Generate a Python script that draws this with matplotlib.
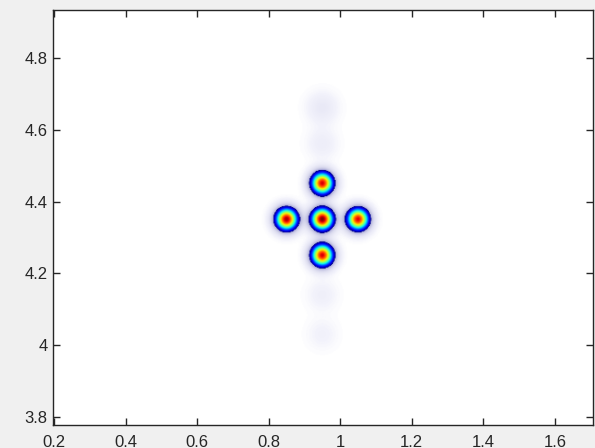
import matplotlib
matplotlib.use("Agg")
import matplotlib.pyplot as plt
import numpy as np
from matplotlib.colors import LinearSegmentedColormap

# peak positions and heights
peak_x = [0.95, 0.85, 0.95, 1.05, 0.95]
peak_y = [4.45, 4.35, 4.35, 4.35, 4.25]
peak_amp = [0.94, 0.97, 1.0, 0.93, 0.94]
peak_width = 0.021

# faint side lobes (light lavender smudges)
lobe_x = [0.95, 0.95, 0.95, 0.95]
lobe_y = [4.66, 4.56, 4.14, 4.03]
lobe_amp = [0.05, 0.035, 0.03, 0.025]
lobe_width = 0.03

x_lim = (0.197, 1.707)
y_lim = (3.779, 4.933)
x_ticks = [0.2, 0.4, 0.6, 0.8, 1.0, 1.2, 1.4, 1.6]
x_labels = ["0.2", "0.4", "0.6", "0.8", "1", "1.2", "1.4", "1.6"]
y_ticks = [3.8, 4.0, 4.2, 4.4, 4.6, 4.8]
y_labels = ["3.8", "4", "4.2", "4.4", "4.6", "4.8"]

# intensity field on a grid
gx = np.linspace(x_lim[0], x_lim[1], 600)
gy = np.linspace(y_lim[0], y_lim[1], 460)
X, Y = np.meshgrid(gx, gy)
Z = np.zeros_like(X)
for cx, cy, a in zip(peak_x, peak_y, peak_amp):
    Z += a * np.exp(-((X - cx) ** 2 + (Y - cy) ** 2) / (2 * peak_width ** 2))
for cx, cy, a in zip(lobe_x, lobe_y, lobe_amp):
    Z += a * np.exp(-((X - cx) ** 2 + (Y - cy) ** 2) / (2 * lobe_width ** 2))

# white -> lavender halo, then jet
jet = plt.get_cmap("jet")
lo = 0.2
stops = [(0.0, (1, 1, 1)), (0.02, (0.95, 0.95, 0.985)),
         (0.1, (0.85, 0.85, 0.93)), (lo - 0.01, (0.68, 0.68, 0.85))]
for t in np.linspace(0, 1, 24):
    stops.append((lo + (1 - lo) * t, jet(t)[:3]))
cmap = LinearSegmentedColormap.from_list("whitejet", stops)

plt.rcParams["font.family"] = ["Liberation Sans", "DejaVu Sans"]
fig = plt.figure(figsize=(5.95, 4.48), dpi=100, facecolor="#f0f0f0")
ax = fig.add_axes([53.3 / 595, 23 / 448, (593 - 53.3) / 595, (425.3 - 10) / 448])
ax.imshow(Z, extent=(x_lim[0], x_lim[1], y_lim[0], y_lim[1]), origin="lower",
          aspect="auto", cmap=cmap, vmin=0, vmax=1, interpolation="bilinear")
ax.set_xlim(x_lim)
ax.set_ylim(y_lim)
ax.set_xticks(x_ticks)
ax.set_xticklabels(x_labels)
ax.set_yticks(y_ticks)
ax.set_yticklabels(y_labels)
ax.tick_params(direction="in", length=5, width=1, top=True, right=True,
               labelsize=12, colors="#262626")
ax.tick_params(axis="x", pad=7)
ax.tick_params(axis="y", pad=4)
for s in ax.spines.values():
    s.set_color("#262626")
    s.set_linewidth(1)

fig.savefig("out.png", dpi=100, facecolor=fig.get_facecolor())
